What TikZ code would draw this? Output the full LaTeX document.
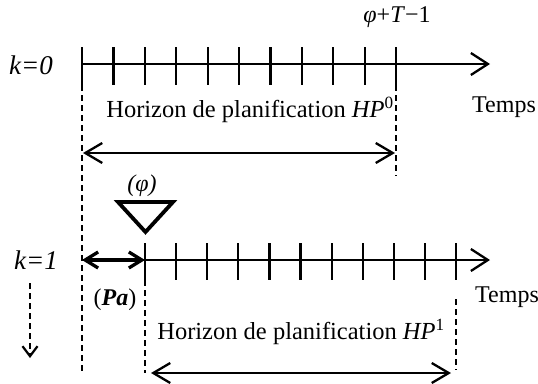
\documentclass[tikz,border=0pt]{standalone}
\usepackage{fontspec}
\setmainfont{Liberation Serif}
\usetikzlibrary{arrows.meta, positioning, calc}
\definecolor{mydark}{RGB}{0,0,0}
\tikzset{
  axe/.style={line width=2.3pt, color=mydark, -{Straight Barb[length=17pt, width=22pt, line width=2.3pt]}},
  graduation/.style={line width=2.2pt, color=mydark},
  guide/.style={line width=1.6pt, color=mydark, dash pattern=on 6pt off 4pt},
  horizon/.style={line width=2.3pt, color=mydark, {Straight Barb[length=17pt, width=20pt, line width=2.3pt]}-{Straight Barb[length=17pt, width=20pt, line width=2.3pt]}},
  decalage/.style={line width=3.3pt, color=mydark, {Straight Barb[length=13pt, width=16pt, line width=3.3pt]}-{Straight Barb[length=13pt, width=16pt, line width=3.3pt]}},
  lbl/.style={font=\fontsize{24}{28}\selectfont, inner sep=0pt},
  hplbl/.style={font=\fontsize{24.5}{28}\selectfont, inner sep=0pt},
  klbl/.style={font=\fontsize{27}{30}\selectfont, inner sep=0pt}
}

\begin{document}
\begin{tikzpicture}[x=1pt, y=-1pt]
  \useasboundingbox (0,0) rectangle (538,383);

  % Axe k=0
  \coordinate (a0s) at (82,64);
  \coordinate (a0e) at (490,64);
  \draw[axe] (a0s) -- (a0e);
  \foreach \i in {0,...,10} {
    \coordinate (t0\i) at ($(a0s)+(\i*31.4,0)$);
    \draw[graduation] ($(t0\i)+(0,-17)$) -- ($(t0\i)+(0,21)$);
  }
  \node[klbl] (k0) at (31,65) {\textit{k=0}};
  \node[lbl] (phiT) at (397,17) {\textit{φ}+\textit{T}−1};
  \node[lbl] (temps0) at (504,107) {Temps};
  \node[hplbl] (hp0) at (250,110) {Horizon de planification \textit{HP}\textsuperscript{0}};

  % Horizon HP0
  \coordinate (d0a) at (82,85);
  \coordinate (d0b) at (82,373);
  \coordinate (d1a) at (396,85);
  \coordinate (d1b) at (396,176);
  \draw[guide] (d0a) -- (d0b);
  \draw[guide] (d1a) -- (d1b);
  \coordinate (h0s) at (83,153);
  \coordinate (h0e) at (395,153);
  \draw[horizon] (h0s) -- (h0e);

  % Decalage (phi)
  \node[font=\fontsize{24}{26}\selectfont, inner sep=0pt] (phi) at (142,186) {\textit{(φ)}};
  \coordinate (trA) at (118,202);
  \coordinate (trB) at (173,202);
  \coordinate (trC) at (145.5,232);
  \draw[line width=3.8pt, line join=miter] (trA) -- (trB) -- (trC) -- cycle;

  % Axe k=1
  \coordinate (a1s) at (145,260);
  \coordinate (a1e) at (490,260);
  \draw[axe] (a1s) -- (a1e);
  \foreach \i in {0,...,10} {
    \coordinate (t1\i) at ($(a1s)+(\i*31.1,0)$);
    \draw[graduation] ($(t1\i)+(0,-17)$) -- ($(t1\i)+(0,20)$);
  }
  \node[klbl] (k1) at (36,260) {\textit{k=1}};
  \node[lbl] (temps1) at (507,297) {Temps};
  \draw[decalage] (d0a |- a1s) -- (a1s);
  \node[lbl] (pa) at (115,300) {(\textbf{\textit{Pa}})};

  % Horizon HP1
  \coordinate (d2a) at (145,280);
  \coordinate (d2b) at (145,373);
  \coordinate (d3a) at (456,299);
  \coordinate (d3b) at (456,370);
  \draw[guide] (d2a) -- (d2b);
  \draw[guide] (d3a) -- (d3b);
  \node[hplbl] (hp1) at (301,332) {Horizon de planification \textit{HP}\textsuperscript{1}};
  \coordinate (h1s) at (151,373);
  \coordinate (h1e) at (451,373);
  \draw[horizon] (h1s) -- (h1e);

  % Iteration suivante
  \coordinate (itA) at (30,283);
  \coordinate (itB) at (30,358);
  \draw[guide, line width=2.2pt, -{Straight Barb[length=10pt, width=15pt, line width=2.2pt]}] (itA) -- (itB);
\end{tikzpicture}
\end{document}
